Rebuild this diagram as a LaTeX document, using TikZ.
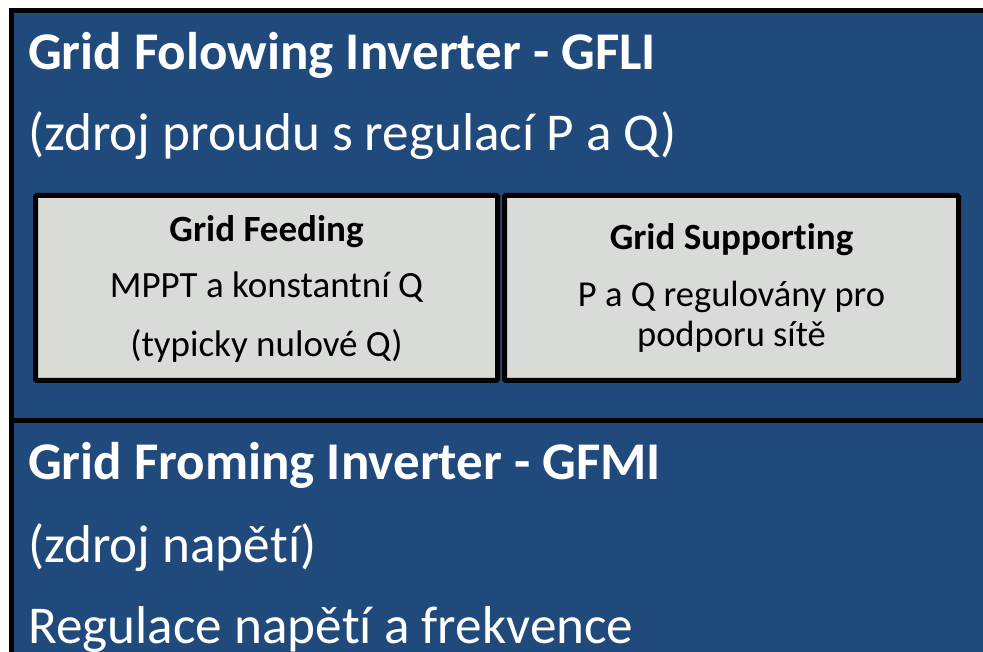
\documentclass[tikz,border=0pt]{standalone}
\usepackage{fontspec}
\setmainfont{Carlito}[Ligatures=NoCommon]
\definecolor{gblue}{HTML}{214A7C}
\definecolor{ggray}{HTML}{D9DBD6}
\newcommand{\nolig}{\kern0pt }
\tikzset{
  panel/.style={draw=black, line width=5pt, fill=gblue},
  inbox/.style={draw=black, line width=5pt, fill=ggray, rounded corners=1.5pt},
  wtitle/.style={anchor=base west, inner sep=0pt, text=white, font=\fontsize{53}{63}\selectfont\bfseries},
  wsub/.style={anchor=base west, inner sep=0pt, text=white, font=\fontsize{53.2}{63}\selectfont},
  ihead/.style={anchor=base, inner sep=0pt, text=black, font=\fontsize{37}{44}\selectfont\bfseries},
  itext/.style={anchor=base, inner sep=0pt, text=black, font=\fontsize{37}{44}\selectfont},
  rtext/.style={anchor=base, inner sep=0pt, text=black, font=\fontsize{36.5}{44}\selectfont},
}
\begin{document}
\begin{tikzpicture}[x=1pt,y=-1pt]
\useasboundingbox (0,0) rectangle (983,652);
\clip (0,0) rectangle (983,652);
\fill[white] (0,0) rectangle (983,652);
% panels
\draw[panel] (11.5,10.5) rectangle (995,420);
\draw[panel] (11.5,420) rectangle (995,670);
% inner boxes
\draw[inbox] (35.5,195.5) rectangle (497.5,380.5);
\draw[inbox] (504.5,195.5) rectangle (958.5,380.5);
% top texts
\node[wtitle] (t1) at (28,70) {Grid Folowing Inverter - GFLI};
\node[wsub] (s1) at (28,151) {(zdroj proudu s regulací P a Q)};
% left box
\node[ihead] (f1) at (266.5,242) {Grid Feeding};
\node[itext] (f2) at (266.5,298) {MPPT a konstantní Q};
\node[itext] (f3) at (266.5,357) {(typicky nulové Q)};
% right box
\node[ihead] (g1) at (731.5,250) {Grid Suppor\nolig ting};
\node[rtext] (g2) at (731.5,307) {P a Q regulovány pro};
\node[rtext] (g3) at (731.5,347) {podporu sítě};
% bottom texts
\node[wtitle] (t2) at (28,479) {Grid Froming Inverter - GFMI};
\node[wsub] (s2) at (28,562) {(zdroj napě\nolig tí)};
\node[wsub] (s3) at (28,643) {Regulace napě\nolig tí a frekvence};
\end{tikzpicture}
\end{document}
